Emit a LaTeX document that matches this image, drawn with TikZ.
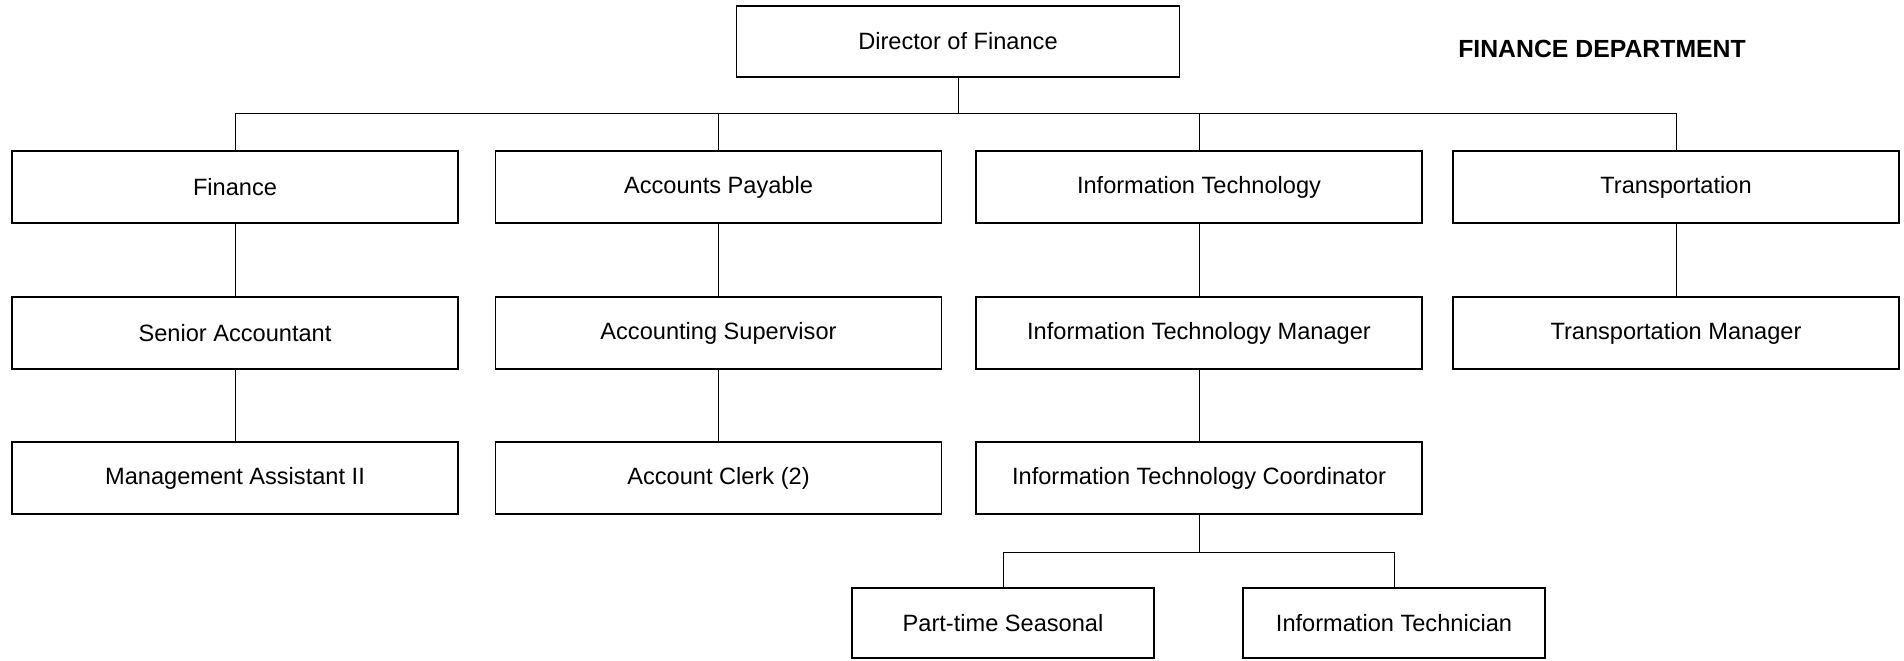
\documentclass[tikz,border=0pt]{standalone}
\usepackage{fontspec}
\setmainfont{Liberation Sans}

\begin{document}
\begin{tikzpicture}[x=0.5pt, y=-0.5pt,
		unit/.style={draw, line width=0.55pt, minimum width=223pt, minimum height=36pt, inner sep=0pt, font=\fontsize{11.8}{14}\selectfont},
		small/.style={unit, minimum width=151pt, minimum height=35pt},
		link/.style={line width=0.5pt}]
	\useasboundingbox (0,0) rectangle (1904,660);

	\node[unit, minimum width=221.5pt, minimum height=35.5pt] (dir) at (958,41.5) {Director of Finance};
	\node[font=\fontsize{12.4}{15}\selectfont\bfseries] (title) at (1602,49) {FINANCE DEPARTMENT};

	% first row
	\node[unit] (fin) at (235,187) {Finance};
	\node[unit] (ap) at (718.5,187) {Accounts Payable};
	\node[unit] (it) at (1199,187) {Information Technology};
	\node[unit] (tr) at (1676,187) {Transportation};

	% second row
	\node[unit] (sa) at (235,333) {Senior Accountant};
	\node[unit] (as) at (718.5,333) {Accounting Supervisor};
	\node[unit] (itm) at (1199,333) {Information Technology Manager};
	\node[unit] (trm) at (1676,333) {Transportation Manager};

	% third row
	\node[unit] (ma) at (235,478) {Management Assistant II};
	\node[unit] (ac) at (718.5,478) {Account Clerk (2)};
	\node[unit] (itc) at (1199,478) {Information Technology Coordinator};

	% fourth row
	\node[small] (pts) at (1003,623) {Part-time Seasonal};
	\node[small] (itt) at (1394,623) {Information Technician};

	\coordinate (bus) at (958,113);
	\coordinate (itbus) at (1199,552);
	\draw[link] (dir.south) -- (bus);
	\foreach \n in {fin,ap,it,tr}
		\draw[link] (bus) -| (\n.north);
	\draw[link] (fin) -- (sa) -- (ma);
	\draw[link] (ap) -- (as) -- (ac);
	\draw[link] (it) -- (itm) -- (itc);
	\draw[link] (tr) -- (trm);
	\draw[link] (itc.south) -- (itbus);
	\foreach \n in {pts,itt}
		\draw[link] (itbus) -| (\n.north);
\end{tikzpicture}
\end{document}
